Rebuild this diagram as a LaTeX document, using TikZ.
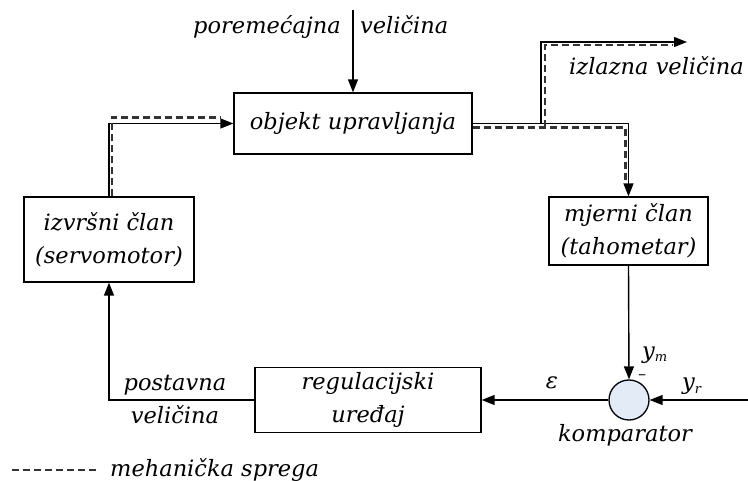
\documentclass[tikz,border=0pt]{standalone}
\usepackage{fontspec}
\setmainfont{DejaVu Serif}
\usetikzlibrary{arrows.meta,calc}
\definecolor{cmpfill}{RGB}{227,235,247}
\begin{document}
\begin{tikzpicture}[x=1pt,y=-1pt,
  every node/.style={font=\fontsize{22.5}{33}\selectfont\itshape, inner sep=0pt},
  blk/.style={draw, line width=1.3pt, align=center},
  sig/.style={line width=1.4pt, black},
  arr/.style={sig, -{Triangle[length=13pt,width=10pt]}},
  mech/.style={line width=2.2pt, draw=black!80, dash pattern=on 7pt off 4pt}
]
\useasboundingbox (0,0) rectangle (748,481);

% blocks
\node[blk, minimum width=238pt, minimum height=61pt] (obj) at (353,123.5) {objekt upravljanja};
\node[blk, minimum width=170pt, minimum height=85pt] (izv) at (109,239.5) {izvršni član\\(servomotor)};
\node[blk, minimum width=159pt, minimum height=68pt] (mje) at (628.5,231) {mjerni član\\(tahometar)};
\node[blk, minimum width=226pt, minimum height=65pt] (reg) at (368,400) {regulacijski\\uređaj};
\node[draw, circle, line width=1.3pt, fill=cmpfill, minimum size=40pt] (cmp) at (629,400) {};

% coordinates
\coordinate (dtop) at (353,10);
\coordinate (br) at (541,123.5);
\coordinate (outend) at (687,42);
\coordinate (rin) at (748,400);

% signal connectors
\draw[arr] (dtop) -- (obj.north);
\draw[arr] (izv.north) |- (obj.west);
\draw[arr] (obj.east) -| (mje.north);
\draw[arr] (br) |- (outend);
\draw[arr] (mje.south) -- (cmp.north);
\draw[arr] (rin) -- (cmp.east);
\draw[arr] (cmp.west) -- (reg.east);
\draw[arr] (reg.west) -| (izv.south);

% mechanical coupling
\draw[mech] ($(izv.north)+(3,0)$) |- ($(obj.west)+(-12,-6)$);
\draw[mech] ($(obj.east)+(0,4)$) -| ($(mje.north)+(-3,-14)$);
\draw[mech] ($(br)+(4,4)$) |- ($(outend)+(-15,3)$);

% labels
\node[anchor=base east] (l1) at (341,34) {poremećajna};
\node[anchor=base west] (l2) at (360,34) {veličina};
\node[anchor=base west] (l3) at (569,75) {izlazna veličina};
\node[anchor=base] (l4) at (175,391) {postavna};
\node[anchor=base] (l5) at (175,424) {veličina};
\node[anchor=base] (l6) at (552,389) {ε};
\node[anchor=base west] (l7) at (642,359) {y\raisebox{-3pt}{\fontsize{13}{13}\selectfont m}};
\node[anchor=base west] (l8) at (682,390) {y\raisebox{-4pt}{\fontsize{13}{13}\selectfont r}};
\node[anchor=center, font=\fontsize{16}{16}\selectfont] (l9) at (642,377) {–};
\node[anchor=base] (l10) at (625,442) {komparator};

% legend
\coordinate (lga) at (12,470);
\coordinate (lgb) at (97,470);
\draw[mech] (lga) -- (lgb);
\node[anchor=west] (lg) at (110,470) {mehanička sprega};
\end{tikzpicture}
\end{document}
